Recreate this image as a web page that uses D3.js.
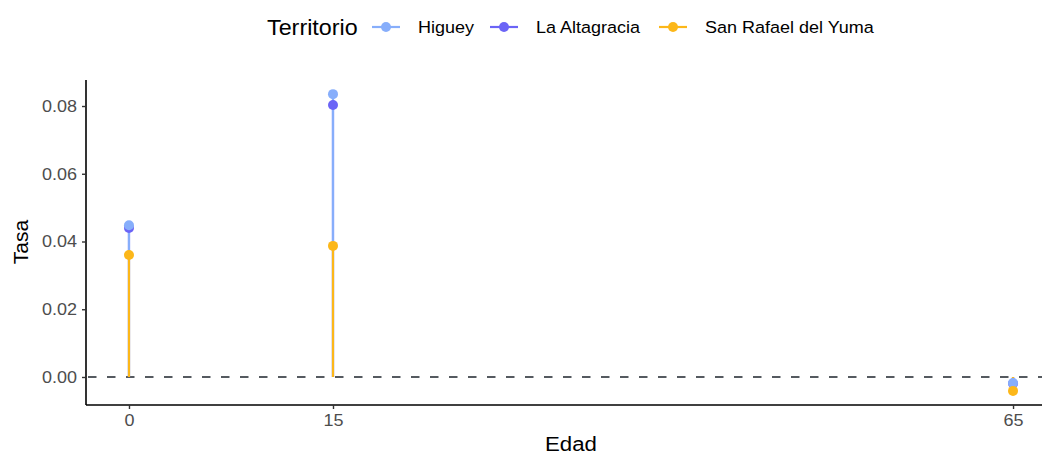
<!DOCTYPE html>
<html><head><meta charset="utf-8">
<script src="https://cdn.jsdelivr.net/npm/d3@7"></script>
<style>body{margin:0;background:#fff}svg{display:block;font-family:"Liberation Sans",Arial,sans-serif}</style>
</head><body><svg id="c" width="1042" height="456"></svg>
<script>
const edades = [0, 15, 65];
const series = ["Higuey", "La Altagracia", "San Rafael del Yuma"];
const higuey = [0.0448, 0.0835, -0.0018];
const laAltagracia = [0.0440, 0.0803, -0.0019];
const sanRafael = [0.0360, 0.0387, -0.0041];
const yTicks = [0.00, 0.02, 0.04, 0.06, 0.08];
const xTicks = [0, 15, 65];
const colors = ["#87aefb", "#6b64f6", "#fcb719"];

const SX = 1.06; // slight horizontal text stretch
const valuesBySeries = [higuey, laAltagracia, sanRafael];
const svg = d3.select("#c");
const x = d3.scaleLinear().domain([-3.16, 67.13]).range([86, 1042]);
const y = d3.scaleLinear().domain([-0.00827, 0.08768]).range([405, 80]);

function stretchedText(g, tx, ty, str, size, anchor) {
  return g.append("text").attr("transform", `translate(${tx},${ty}) scale(${SX},1)`)
    .attr("text-anchor", anchor || "start").style("font-size", size + "px").text(str);
}

// zero line
svg.append("line").attr("x1", 86).attr("x2", 1042).attr("y1", y(0)).attr("y2", y(0))
  .attr("stroke", "#555a60").attr("stroke-width", 1.8).attr("stroke-dasharray", "8.5,10.5").attr("stroke-dashoffset", -2);

const order = [1, 0, 2];
order.forEach(si => {
  svg.append("g").selectAll("line").data(edades).join("line")
    .attr("x1", d => x(d)).attr("x2", d => x(d))
    .attr("y1", y(0)).attr("y2", (d, i) => y(valuesBySeries[si][i]))
    .attr("stroke", colors[si]).attr("stroke-width", 2.2);
});
order.forEach(si => {
  svg.append("g").selectAll("circle").data(edades).join("circle")
    .attr("cx", d => x(d)).attr("cy", (d, i) => y(valuesBySeries[si][i]))
    .attr("r", 5).attr("fill", colors[si]);
});

// axes
const yAxis = svg.append("g").attr("transform", "translate(86,0)")
  .call(d3.axisLeft(y).tickValues(yTicks).tickFormat(d3.format(".2f")).tickSize(4).tickPadding(5));
const xAxis = svg.append("g").attr("transform", "translate(0,405)")
  .call(d3.axisBottom(x).tickValues(xTicks).tickSize(4).tickPadding(5));
[yAxis, xAxis].forEach(a => {
  a.select(".domain").attr("stroke", "#000").attr("stroke-width", 1.6);
  a.selectAll(".tick line").attr("stroke", "#333").attr("stroke-width", 1.4);
  a.selectAll(".tick text").attr("fill", "#4d4d4d").style("font-size", "17px")
    .style("font-family", "Liberation Sans, Arial, sans-serif")
    .each(function () {
      const t = d3.select(this);
      const xv = +t.attr("x") || 0;
      t.attr("x", xv / SX).attr("transform", `scale(${SX},1)`);
    });
});
yAxis.select(".domain").attr("d", "M0,80V405");
xAxis.select(".domain").attr("d", "M86,0H1042");

svg.append("text").attr("transform", "translate(28,242) rotate(-90)").attr("text-anchor", "middle")
  .style("font-size", "21px").text("Tasa");
stretchedText(svg, 571, 451, "Edad", 21, "middle");

// legend
const lg = svg.append("g");
stretchedText(lg, 267, 35, "Territorio", 22);
const keyX = [372, 490, 659];
series.forEach((s, i) => {
  lg.append("line").attr("x1", keyX[i]).attr("x2", keyX[i] + 28).attr("y1", 27).attr("y2", 27)
    .attr("stroke", colors[i]).attr("stroke-width", 2.2);
  lg.append("circle").attr("cx", keyX[i] + 14).attr("cy", 27).attr("r", 5).attr("fill", colors[i]);
  stretchedText(lg, keyX[i] + 46, 33, s, 17);
});
</script></body></html>
